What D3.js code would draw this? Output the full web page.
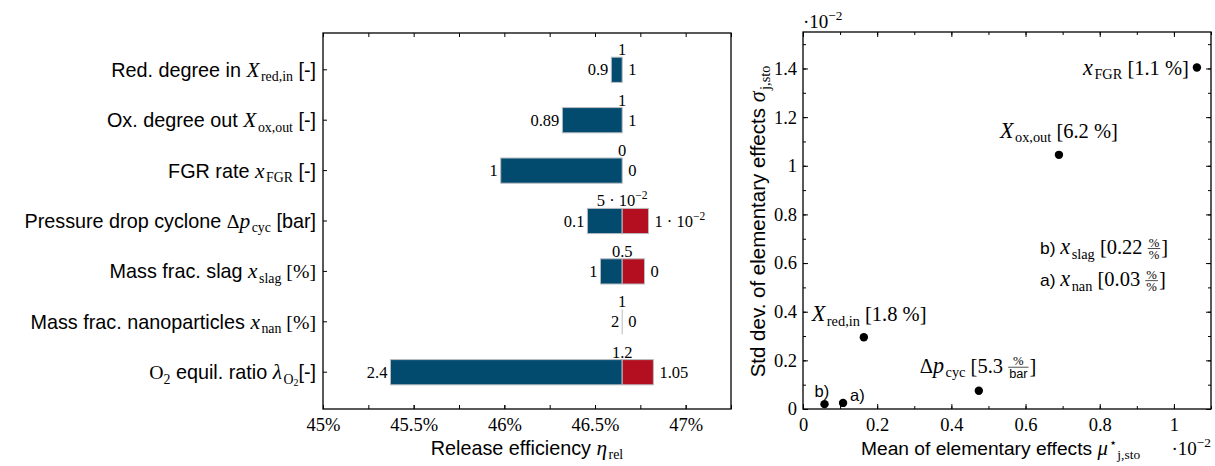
<!DOCTYPE html>
<html>
<head>
<meta charset="utf-8">
<script src="https://cdn.jsdelivr.net/npm/d3@7"></script>
<style>
  body { margin: 0; background: #fff; }
  svg { display: block; }
</style>
</head>
<body>
<svg width="1215" height="466"></svg>
<script>
// Tornado chart data (release efficiency in %)
const baseEfficiency = 46.65;
const paramLabels = [
  [{ t: "Red. degree in " }, { t: "X", f: "it" }, { t: "red,in", f: "rm", sub: 1 }, { t: " [-]" }],
  [{ t: "Ox. degree out " }, { t: "X", f: "it" }, { t: "ox,out", f: "rm", sub: 1 }, { t: " [-]" }],
  [{ t: "FGR rate " }, { t: "x", f: "it" }, { t: "FGR", f: "rm", sub: 1 }, { t: " [-]" }],
  [{ t: "Pressure drop cyclone " }, { t: "Δ", f: "rm" }, { t: "p", f: "it" }, { t: "cyc", f: "rm", sub: 1 }, { t: " [bar]" }],
  [{ t: "Mass frac. slag " }, { t: "x", f: "it" }, { t: "slag", f: "rm", sub: 1 }, { t: " [%]", f: "rm" }],
  [{ t: "Mass frac. nanoparticles " }, { t: "x", f: "it" }, { t: "nan", f: "rm", sub: 1 }, { t: " [%]", f: "rm" }],
  [{ t: "O", f: "rm" }, { t: "2", f: "rm", sub: 1 }, { t: " equil. ratio " }, { t: "λ", f: "it" }, { t: "O", f: "rm", sub: 1 }, { t: "2", f: "rm", sub: 2 }, { t: "[-]" }]
];
const lowEfficiency = [46.59, 46.32, 45.98, 46.458, 46.53, 46.65, 45.372];
const highEfficiency = [46.65, 46.65, 46.65, 46.795, 46.773, 46.65, 46.822];
const leftValueLabels = ["0.9", "0.89", "1", "0.1", "1", "2", "2.4"];
const rightValueLabels = ["1", "1", "0", [{ t: "1 · 10", f: "rm" }, { t: "−2", f: "rm", sup: 1 }], "0", "0", "1.05"];
const baseValueLabels = ["1", "1", "0", [{ t: "5 · 10", f: "rm" }, { t: "−2", f: "rm", sup: 1 }], "0.5", "1", "1.2"];
const effTicks = [45, 45.5, 46, 46.5, 47];

// Morris screening data (values in 10^-2)
const muStar = [0.164, 0.69, 1.062, 0.474, 0.058, 0.108];
const sigma = [0.295, 1.045, 1.404, 0.075, 0.02, 0.025];
const pointLabels = [
  [{ t: "X", f: "it" }, { t: "red,in", f: "rm", sub: 1 }, { t: " [1.8 %]", f: "rm" }],
  [{ t: "X", f: "it" }, { t: "ox,out", f: "rm", sub: 1 }, { t: " [6.2 %]", f: "rm" }],
  [{ t: "x", f: "it" }, { t: "FGR", f: "rm", sub: 1 }, { t: " [1.1 %]", f: "rm" }],
  [{ t: "Δ", f: "rm" }, { t: "p", f: "it" }, { t: "cyc", f: "rm", sub: 1 }, { t: " [5.3 ", f: "rm" }, { num: "%", den: "bar", denF: "sans" }, { t: "]", f: "rm" }],
  [{ t: "b)" }],
  [{ t: "a)" }]
];
const noteLabels = [
  [{ t: "b) ", s: 0.85 }, { t: "x", f: "it" }, { t: "slag", f: "rm", sub: 1 }, { t: " [0.22 ", f: "rm" }, { num: "%", den: "%" }, { t: "]", f: "rm" }],
  [{ t: "a) ", s: 0.85 }, { t: "x", f: "it" }, { t: "nan", f: "rm", sub: 1 }, { t: " [0.03 ", f: "rm" }, { num: "%", den: "%" }, { t: "]", f: "rm" }]
];
const noteMu = [0.639, 0.639];
const noteSigma = [0.637, 0.505];
const muTicks = [0, 0.2, 0.4, 0.6, 0.8, 1];
const sigmaTicks = [0, 0.2, 0.4, 0.6, 0.8, 1, 1.2, 1.4];

const SANS = "'Liberation Sans', Arial, sans-serif";
const SERIF = "'Liberation Serif', 'Times New Roman', serif";
const BLUE = "#024b6f";
const RED = "#b40f20";

let svg = d3.select("svg");

// writes a run of text pieces (sans / roman / italic, sub, sup, small fractions)
function rich(parent, parts, x, y, size, anchor) {
  if (typeof parts === "string") parts = [{ t: parts, f: "rm" }];
  let g = parent.append("g");
  let cx = 0;
  parts.forEach((p) => {
    if (p.num !== undefined) {
      let fs = size * 0.62;
      let axis = -size * 0.27;
      let num = g.append("text").attr("font-family", SERIF).attr("font-size", fs).text(p.num);
      let den = g.append("text")
        .attr("font-family", p.denF === "sans" ? SANS : SERIF)
        .attr("font-size", fs)
        .text(p.den);
      let wn = num.node().getComputedTextLength();
      let wd = den.node().getComputedTextLength();
      let w = Math.max(wn, wd) + 2;
      num.attr("x", cx + (w - wn) / 2).attr("y", axis - 2);
      den.attr("x", cx + (w - wd) / 2).attr("y", axis + 1.5 + fs * 0.72);
      g.append("line")
        .attr("x1", cx).attr("x2", cx + w)
        .attr("y1", axis).attr("y2", axis)
        .attr("stroke", "#000").attr("stroke-width", 0.7);
      cx += w + 1;
      return;
    }
    let fs = size * (p.s || 1);
    let dy = 0;
    if (p.sub === 1) { fs = size * 0.7; dy = size * 0.22; }
    if (p.sub === 2) { fs = size * 0.5; dy = size * 0.36; }
    if (p.sup) { fs = size * 0.7; dy = -size * 0.42; }
    // italic math letters are a touch wider in the original typesetting
    if (p.f === "it") fs *= 1.08;
    let t = g.append("text")
      .attr("x", cx)
      .attr("y", dy)
      .attr("font-size", fs)
      .attr("font-family", p.f === "rm" || p.f === "it" ? SERIF : SANS)
      .attr("font-style", p.f === "it" ? "italic" : "normal")
      .attr("xml:space", "preserve")
      .style("white-space", "pre")
      .text(p.t);
    cx += t.node().getComputedTextLength() + (p.f === "it" ? 1.5 : 0);
  });
  let shift = anchor === "end" ? cx : anchor === "middle" ? cx / 2 : 0;
  g.attr("transform", `translate(${x - shift},${y})`);
  return g;
}

function styleAxis(g) {
  g.select(".domain").remove();
  g.selectAll(".tick line").attr("stroke", "#000").attr("stroke-width", 1);
  g.selectAll(".tick text").attr("font-family", SERIF).attr("font-size", 18.5).attr("fill", "#000");
}

// ---------- left: tornado chart ----------
const L = { x0: 323, x1: 731, y0: 33, y1: 409 };
let xL = d3.scaleLinear().domain([45, 47.25]).range([L.x0, L.x1]);
let yL = d3.scaleBand()
  .domain(d3.range(paramLabels.length))
  .range([L.y0, L.y1])
  .paddingInner(0.5)
  .paddingOuter(0.48);
let minorEff = d3.range(45, 47.26, 0.25);

let left = svg.append("g").attr("class", "tornado");

left.append("g")
  .attr("transform", `translate(0,${L.y1})`)
  .call(d3.axisBottom(xL).tickValues(minorEff).tickSize(-4).tickFormat(""))
  .call(styleAxis);
left.append("g")
  .attr("transform", `translate(0,${L.y1})`)
  .call(d3.axisBottom(xL).tickValues(effTicks).tickSize(-4).tickPadding(9).tickFormat((d) => d + "%"))
  .call(styleAxis);
left.append("g")
  .attr("transform", `translate(0,${L.y0})`)
  .call(d3.axisTop(xL).tickValues(minorEff).tickSize(-4).tickFormat(""))
  .call(styleAxis);
left.append("g")
  .attr("transform", `translate(${L.x0},0)`)
  .call(d3.axisLeft(yL).tickSize(-4).tickFormat(""))
  .call(styleAxis);

paramLabels.forEach((parts, i) => {
  let cy = yL(i) + yL.bandwidth() / 2;
  rich(left, parts, L.x0 - 7, cy + 7, 19.8, "end");

  let bw = yL.bandwidth();
  let xb = xL(baseEfficiency);
  if (lowEfficiency[i] < baseEfficiency) {
    left.append("rect")
      .attr("x", xL(lowEfficiency[i])).attr("y", yL(i))
      .attr("width", xb - xL(lowEfficiency[i])).attr("height", bw)
      .attr("fill", BLUE).attr("stroke", "#b9bcc0").attr("stroke-width", 1);
  }
  if (highEfficiency[i] > baseEfficiency) {
    left.append("rect")
      .attr("x", xb).attr("y", yL(i))
      .attr("width", xL(highEfficiency[i]) - xb).attr("height", bw)
      .attr("fill", RED).attr("stroke", "#b9bcc0").attr("stroke-width", 1);
  }
  if (lowEfficiency[i] >= baseEfficiency && highEfficiency[i] <= baseEfficiency) {
    left.append("line")
      .attr("x1", xb).attr("x2", xb)
      .attr("y1", yL(i)).attr("y2", yL(i) + bw)
      .attr("stroke", "#b9bcc0").attr("stroke-width", 1);
  }

  rich(left, leftValueLabels[i], xL(lowEfficiency[i]) - 3, cy + 5.5, 16.5, "end");
  rich(left, rightValueLabels[i], xL(highEfficiency[i]) + 6, cy + 5.5, 16.5, "start");
  rich(left, baseValueLabels[i], xb, yL(i) - 2, 16.5, "middle");
});

left.append("rect")
  .attr("x", L.x0).attr("y", L.y0)
  .attr("width", L.x1 - L.x0).attr("height", L.y1 - L.y0)
  .attr("fill", "none").attr("stroke", "#000").attr("stroke-width", 1.3);

rich(left, [{ t: "Release efficiency " }, { t: "η", f: "it" }, { t: "rel", f: "rm", sub: 1 }],
  (L.x0 + L.x1) / 2, 455, 19.8, "middle");

// ---------- right: Morris screening ----------
const R = { x0: 803, x1: 1211, y0: 32, y1: 409 };
let xR = d3.scaleLinear().domain([0, 1.1]).range([R.x0, R.x1]);
let yR = d3.scaleLinear().domain([0, 1.55]).range([R.y1, R.y0]);
let minorMu = d3.range(0, 1.11, 0.1);
let minorSigma = d3.range(0, 1.56, 0.1);
let fmt = (d) => String(+d.toFixed(1));

let right = svg.append("g").attr("class", "morris");

right.append("g").attr("transform", `translate(0,${R.y1})`)
  .call(d3.axisBottom(xR).tickValues(minorMu).tickSize(-3).tickFormat("")).call(styleAxis);
right.append("g").attr("transform", `translate(0,${R.y1})`)
  .call(d3.axisBottom(xR).tickValues(muTicks).tickSize(-5).tickPadding(9).tickFormat(fmt)).call(styleAxis);
right.append("g").attr("transform", `translate(0,${R.y0})`)
  .call(d3.axisTop(xR).tickValues(minorMu).tickSize(-3).tickFormat("")).call(styleAxis);
right.append("g").attr("transform", `translate(0,${R.y0})`)
  .call(d3.axisTop(xR).tickValues(muTicks).tickSize(-5).tickFormat("")).call(styleAxis);
right.append("g").attr("transform", `translate(${R.x0},0)`)
  .call(d3.axisLeft(yR).tickValues(minorSigma).tickSize(-3).tickFormat("")).call(styleAxis);
right.append("g").attr("transform", `translate(${R.x0},0)`)
  .call(d3.axisLeft(yR).tickValues(sigmaTicks).tickSize(-5).tickPadding(6).tickFormat(fmt)).call(styleAxis);
right.append("g").attr("transform", `translate(${R.x1},0)`)
  .call(d3.axisRight(yR).tickValues(minorSigma).tickSize(-3).tickFormat("")).call(styleAxis);
right.append("g").attr("transform", `translate(${R.x1},0)`)
  .call(d3.axisRight(yR).tickValues(sigmaTicks).tickSize(-5).tickFormat("")).call(styleAxis);

right.append("rect")
  .attr("x", R.x0).attr("y", R.y0)
  .attr("width", R.x1 - R.x0).attr("height", R.y1 - R.y0)
  .attr("fill", "none").attr("stroke", "#000").attr("stroke-width", 1.3);

right.selectAll("circle")
  .data(muStar)
  .join("circle")
  .attr("cx", (d) => xR(d))
  .attr("cy", (d, i) => yR(sigma[i]))
  .attr("r", 4.2)
  .attr("fill", "#000");

// label placement relative to each point: [dx, dy, anchor]
const labelOffsets = [[-52, -16, "start"], [0, -17, "middle"], [-8, 7, "end"], [-59, -18, "start"], [-10, -7, "start"], [7, -2, "start"]];
pointLabels.forEach((parts, i) => {
  let o = labelOffsets[i];
  let size = parts.length === 1 ? 16.5 : 20.5;
  rich(right, parts, xR(muStar[i]) + o[0], yR(sigma[i]) + o[1], size, o[2]);
});
noteLabels.forEach((parts, i) => {
  rich(right, parts, xR(noteMu[i]), yR(noteSigma[i]), 20.5, "start");
});

rich(right, [{ t: "·10", f: "rm" }, { t: "−2", f: "rm", sup: 1 }], R.x0, 28, 19, "start");
rich(right, [{ t: "·10", f: "rm" }, { t: "−2", f: "rm", sup: 1 }], R.x1, 455, 19, "end");
rich(right, [{ t: "Mean of elementary effects " }, { t: "μ", f: "it" }, { t: "⋆", f: "rm", sup: 1 }, { t: "j,sto", f: "rm", sub: 1 }],
  861, 455, 19.2, "start");

let yl = rich(right, [{ t: "Std dev. of elementary effects " }, { t: "σ", f: "it" }, { t: "j,sto", f: "rm", sub: 1 }],
  0, 0, 20.5, "middle");
let ylTr = yl.attr("transform");
yl.attr("transform", `translate(765,${(R.y0 + R.y1) / 2 + 1}) rotate(-90) ${ylTr}`);
</script>
</body>
</html>
